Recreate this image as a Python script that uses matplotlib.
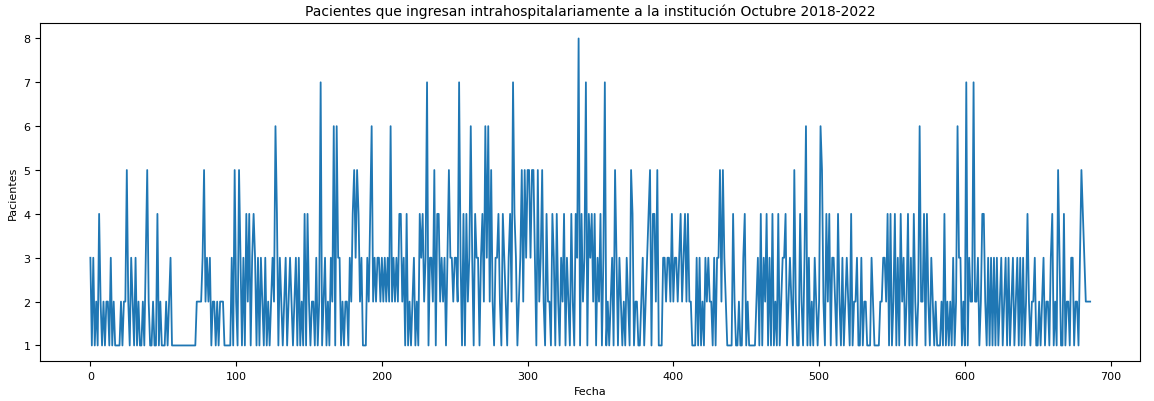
import matplotlib
matplotlib.use("Agg")
import matplotlib.pyplot as plt

# Pacientes por registro (índice de fecha)
pacientes = [
    3, 1, 3, 1, 2, 1, 4, 2, 1, 2, 1, 2, 2, 1, 3, 1, 2, 1, 1, 1,
    1, 2, 1, 2, 2, 5, 2, 1, 3, 2, 1, 3, 1, 2, 1, 1, 2, 1, 3, 5,
    2, 1, 1, 2, 1, 1, 4, 1, 2, 1, 1, 1, 2, 1, 2, 3, 1, 1, 1, 1,
    1, 1, 1, 1, 1, 1, 1, 1, 1, 1, 1, 1, 1, 2, 2, 2, 2, 3, 5, 2,
    3, 2, 3, 1, 2, 2, 1, 2, 1, 2, 2, 2, 1, 1, 1, 1, 1, 3, 1, 5,
    2, 1, 5, 3, 1, 3, 1, 4, 2, 4, 1, 3, 4, 3, 1, 3, 1, 3, 2, 1,
    3, 1, 2, 1, 2, 3, 2, 6, 4, 1, 3, 2, 1, 2, 3, 1, 2, 3, 2, 1,
    2, 3, 1, 3, 1, 2, 1, 4, 1, 4, 2, 1, 2, 2, 1, 3, 1, 2, 7, 1,
    2, 3, 1, 2, 1, 3, 2, 6, 1, 6, 3, 3, 1, 2, 1, 2, 2, 1, 3, 2,
    4, 5, 3, 5, 4, 2, 3, 1, 1, 1, 3, 2, 4, 6, 2, 3, 2, 3, 3, 2,
    3, 2, 3, 2, 3, 2, 6, 2, 3, 2, 3, 2, 4, 4, 2, 3, 1, 4, 1, 2,
    1, 2, 3, 1, 2, 1, 4, 3, 4, 2, 3, 7, 1, 3, 3, 2, 5, 1, 4, 4,
    2, 3, 2, 3, 1, 3, 5, 3, 3, 2, 3, 3, 2, 7, 3, 1, 4, 1, 4, 2,
    3, 6, 3, 1, 4, 3, 3, 1, 3, 4, 2, 6, 3, 6, 2, 5, 2, 1, 3, 3,
    4, 2, 1, 4, 3, 2, 1, 3, 4, 2, 7, 4, 3, 1, 2, 3, 5, 2, 5, 3,
    5, 5, 3, 5, 5, 3, 1, 5, 2, 3, 5, 2, 1, 4, 2, 2, 1, 4, 3, 1,
    4, 2, 1, 3, 2, 4, 1, 3, 2, 1, 4, 2, 1, 4, 3, 8, 1, 4, 2, 3,
    7, 1, 4, 3, 4, 2, 4, 1, 3, 2, 4, 1, 3, 7, 1, 2, 1, 2, 3, 1,
    5, 3, 1, 3, 2, 1, 2, 1, 3, 2, 1, 5, 4, 1, 2, 2, 1, 1, 2, 3,
    1, 2, 3, 4, 5, 1, 4, 4, 2, 5, 1, 1, 1, 3, 3, 2, 3, 3, 2, 4,
    2, 3, 3, 2, 3, 4, 2, 3, 4, 2, 4, 2, 2, 1, 1, 1, 3, 1, 3, 1,
    2, 1, 3, 2, 3, 2, 2, 1, 3, 1, 3, 3, 5, 2, 5, 3, 2, 1, 1, 1,
    1, 4, 2, 1, 1, 2, 1, 1, 3, 4, 1, 2, 1, 1, 1, 1, 1, 2, 3, 1,
    4, 1, 3, 2, 4, 1, 3, 1, 4, 1, 2, 1, 4, 1, 2, 3, 3, 4, 1, 2,
    3, 2, 1, 5, 2, 1, 1, 4, 2, 1, 3, 6, 1, 3, 1, 2, 1, 3, 2, 1,
    2, 6, 5, 2, 1, 4, 2, 4, 1, 3, 3, 2, 1, 4, 2, 1, 3, 1, 2, 3,
    2, 1, 4, 1, 2, 2, 3, 1, 1, 3, 1, 2, 2, 1, 1, 1, 3, 2, 1, 1,
    1, 1, 2, 2, 3, 3, 2, 4, 1, 4, 1, 2, 4, 1, 3, 1, 4, 2, 3, 1,
    2, 4, 1, 3, 1, 4, 2, 1, 2, 6, 2, 2, 4, 1, 4, 2, 1, 3, 2, 1,
    2, 1, 1, 1, 2, 1, 4, 1, 2, 1, 2, 1, 3, 1, 2, 6, 3, 3, 1, 2,
    1, 7, 1, 3, 2, 2, 7, 2, 2, 3, 1, 2, 4, 4, 2, 1, 3, 1, 3, 1,
    3, 1, 3, 1, 2, 3, 1, 2, 3, 1, 3, 1, 2, 3, 1, 2, 3, 1, 3, 1,
    3, 1, 2, 4, 2, 1, 2, 2, 3, 1, 1, 2, 1, 2, 3, 1, 2, 2, 1, 3,
    4, 1, 2, 1, 5, 3, 1, 1, 4, 1, 2, 2, 1, 3, 3, 1, 2, 2, 1, 3,
    5, 4, 3, 2, 2, 2, 2,
]

fig = plt.figure(figsize=(11.54, 4.02), dpi=100)
ax = fig.add_subplot(111)
fig.subplots_adjust(left=0.035, right=0.988, top=0.94, bottom=0.1)

ax.plot(range(len(pacientes)), pacientes, color="#1f77b4", linewidth=1.3)
ax.set_title("Pacientes que ingresan intrahospitalariamente a la institución Octubre 2018-2022", fontsize=10)
ax.set_xlabel("Fecha", fontsize=8)
ax.set_ylabel("Pacientes", fontsize=8)
ax.tick_params(labelsize=8)

plt.savefig("out.png", dpi=100)
